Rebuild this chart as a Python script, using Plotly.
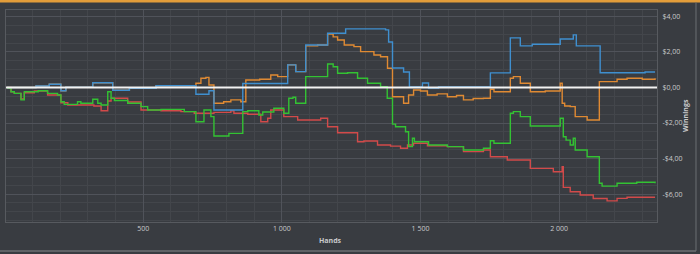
import plotly.graph_objects as go

# ---- data (hands, winnings in $) ----
blue_hands = [9, 113, 161, 203, 221, 318, 390, 450, 546, 690, 737, 755, 859, 1021, 1050, 1086, 1165, 1230,
              1374, 1385, 1399, 1439, 1460, 1507, 1529, 1565, 1752, 1824, 1860, 1903, 2004, 2051, 2062, 2148, 2310, 2346]
blue_win = [0.00, 0.08, 0.18, -0.18, 0.01, 0.27, -0.16, -0.05, 0.10, -0.38, -0.18, -1.27, 0.22, 1.27, 0.89, 2.39, 3.05, 3.30,
            3.24, 2.56, 1.10, 0.87, 0.03, 0.25, -0.03, 0.03, 0.82, 2.79, 2.34, 2.43, 2.73, 2.96, 2.34, 0.83, 0.87, 0.87]

orange_hands = [9, 113, 161, 203, 221, 318, 390, 450, 546, 690, 708, 726, 737, 755, 790, 816, 852, 870, 920, 960, 985,
                1021, 1050, 1086, 1129, 1165, 1185, 1201, 1225, 1260, 1284, 1332, 1356, 1381, 1399, 1439, 1457, 1475,
                1500, 1525, 1560, 1597, 1630, 1655, 1690, 1727, 1752, 1765, 1824, 1835, 1860, 1896, 1950, 2004, 2011,
                2020, 2040, 2058, 2101, 2145, 2209, 2245, 2300, 2346]
orange_win = [0.00, 0.08, 0.18, -0.18, 0.01, 0.27, -0.16, -0.05, 0.10, 0.24, 0.52, 0.57, 0.14, -0.89, -0.80, -0.70, -0.80, 0.42, 0.46, 0.70, 0.61,
              1.27, 0.89, 2.34, 2.39, 3.00, 2.85, 2.67, 2.39, 2.30, 2.02, 1.83, 1.73, 1.08, -0.52, -0.89, -0.42, -0.14,
              -0.20, -0.42, -0.36, -0.52, -0.45, -0.70, -0.62, -0.61, -0.10, -0.24, 0.52, 0.61, 0.24, -0.24, -0.20, 0.24, -0.89,
              -1.04, -1.08, -1.64, -1.83, 0.33, 0.46, 0.52, 0.46, 0.52]

green_hands = [9, 12, 23, 35, 59, 71, 121, 155, 191, 203, 215, 263, 275, 318, 336, 348, 372, 384, 396, 444, 492, 516,
               564, 648, 690, 719, 744, 755, 809, 859, 877, 917, 931, 971, 1007, 1025, 1040, 1050, 1086, 1165, 1185,
               1201, 1237, 1273, 1309, 1356, 1380, 1399, 1410, 1446, 1457, 1471, 1478, 1529, 1597, 1655, 1727, 1752,
               1765, 1824, 1835, 1860, 1896, 2004, 2015, 2025, 2040, 2051, 2058, 2101, 2145, 2155, 2209, 2280, 2346]
green_win = [0.00, -0.05, -0.24, -0.33, -0.70, -0.24, -0.18, -0.33, -0.42, -0.80, -0.95, -0.80, -0.89, -0.66, -0.89, -0.99, -0.24, -0.61, -0.73, -0.89, -1.08, -1.27,
             -1.23, -1.36, -1.93, -1.27, -1.64, -2.73, -2.58, -1.36, -1.31, -1.55, -1.38, -1.17, -1.45, -0.61, -0.55, -0.89, 0.61, 1.32, 1.17,
             0.80, 0.83, 0.52, 0.24, 0.05, -0.61, -2.06, -2.21, -2.49, -3.33, -2.86, -3.05, -3.24, -3.33, -3.52, -3.42, -3.00,
             -3.14, -1.45, -1.36, -1.64, -2.17, -1.73, -2.77, -2.96, -3.24, -2.86, -3.52, -3.90, -5.39, -5.55, -5.39, -5.33, -5.39]

red_hands = [9, 23, 35, 59, 71, 107, 155, 203, 228, 322, 348, 372, 384, 444, 492, 564, 636, 684, 755, 816, 827, 877,
             924, 949, 960, 1007, 1057, 1140, 1165, 1201, 1273, 1296, 1345, 1392, 1428, 1453, 1475, 1525, 1597, 1655,
             1727, 1752, 1813, 1896, 1979, 2011, 2015, 2040, 2076, 2123, 2173, 2209, 2245, 2346]
red_win = [0.00, -0.24, -0.33, -0.65, -0.30, -0.20, -0.42, -0.86, -0.99, -1.04, -1.31, -0.76, -0.61, -0.82, -1.27, -1.31, -1.36, -1.45, -1.40, -1.31, -1.45, -1.51,
           -1.93, -1.73, -1.27, -1.64, -1.83, -1.73, -2.21, -2.55, -3.05, -3.01, -3.24, -3.30, -3.42, -3.24, -3.14, -3.28, -3.33, -3.61,
           -3.52, -3.90, -4.08, -4.55, -4.74, -4.46, -5.62, -5.87, -6.05, -6.25, -6.38, -6.24, -6.18, -6.18]

x_tick_vals = [500, 1000, 1500, 2000]
x_tick_text = ["500", "1 000", "1 500", "2 000"]
y_tick_vals = [-6, -4, -2, 0, 2, 4]
y_tick_text = ["-$6,00", "-$4,00", "-$2,00", "$0,00", "$2,00", "$4,00"]

BG = "#393c41"
MINOR = "#43464b"
MAJOR = "#50535a"
BORDER = "#575a5f"
TXT = "#c9cacc"
FONT = "Open Sans"

fig = go.Figure()
for h, w, c in [(red_hands, red_win, "#d24a4a"),
                (green_hands, green_win, "#33c233"),
                (orange_hands, orange_win, "#e08a33"),
                (blue_hands, blue_win, "#3f8fcf")]:
    fig.add_trace(go.Scatter(x=h, y=w, mode="lines", line=dict(color=c, width=1.4, shape="hv"),
                             hoverinfo="skip"))

fig.update_layout(
    width=700, height=254,
    margin=dict(l=6, r=43, t=10, b=32),
    paper_bgcolor=BG, plot_bgcolor=BG,
    showlegend=False,
    font=dict(family=FONT, color=TXT, size=7),
    xaxis=dict(range=[5, 2353], tickmode="array", tickvals=x_tick_vals, ticktext=x_tick_text,
               showgrid=True, gridcolor=MAJOR, gridwidth=1, zeroline=False,
               showline=True, mirror=True, linecolor=BORDER, linewidth=1,
               ticks="", tickfont=dict(size=7, color=TXT),
               minor=dict(tickmode="linear", tick0=0, dtick=100, showgrid=True, gridcolor=MINOR, gridwidth=1)),
    yaxis=dict(range=[-7.57, 4.36], side="right", tickmode="array", tickvals=y_tick_vals, ticktext=y_tick_text,
               showgrid=True, gridcolor=MAJOR, gridwidth=1, zeroline=False,
               showline=True, mirror=True, linecolor=BORDER, linewidth=1,
               ticks="outside", ticklen=3, tickcolor=BG, tickfont=dict(size=7, color=TXT),
               minor=dict(tickmode="linear", tick0=0, dtick=0.5, showgrid=True, gridcolor=MINOR, gridwidth=1)),
)

# zero line drawn above the series
fig.add_shape(type="line", xref="paper", yref="y", x0=0, x1=1, y0=0, y1=0,
              line=dict(color="#f2f2f2", width=2), layer="above")
# orange top bar
fig.add_shape(type="rect", xref="paper", yref="paper", x0=-0.02, x1=1.08, y0=1.0354, y1=1.07,
              fillcolor="#e39d3a", line=dict(width=0), layer="above")
# panel border right / bottom
fig.add_shape(type="line", xref="paper", yref="paper", x0=1.0599, x1=1.0599, y0=-0.137, y1=1.0354,
              line=dict(color="#6c6f73", width=1))
fig.add_shape(type="line", xref="paper", yref="paper", x0=-0.02, x1=1.0599, y0=-0.137, y1=-0.137,
              line=dict(color="#6c6f73", width=1.5))

fig.add_annotation(text="<b>Hands</b>", xref="paper", yref="paper", x=0.499, y=-0.085,
                   showarrow=False, font=dict(size=7, color=TXT), xanchor="center", yanchor="middle")
fig.add_annotation(text="<b>Winnings</b>", xref="paper", yref="paper", x=1.0445, y=0.505,
                   showarrow=False, font=dict(size=7, color=TXT), textangle=-90,
                   xanchor="center", yanchor="middle")

fig.write_html("out.html")
